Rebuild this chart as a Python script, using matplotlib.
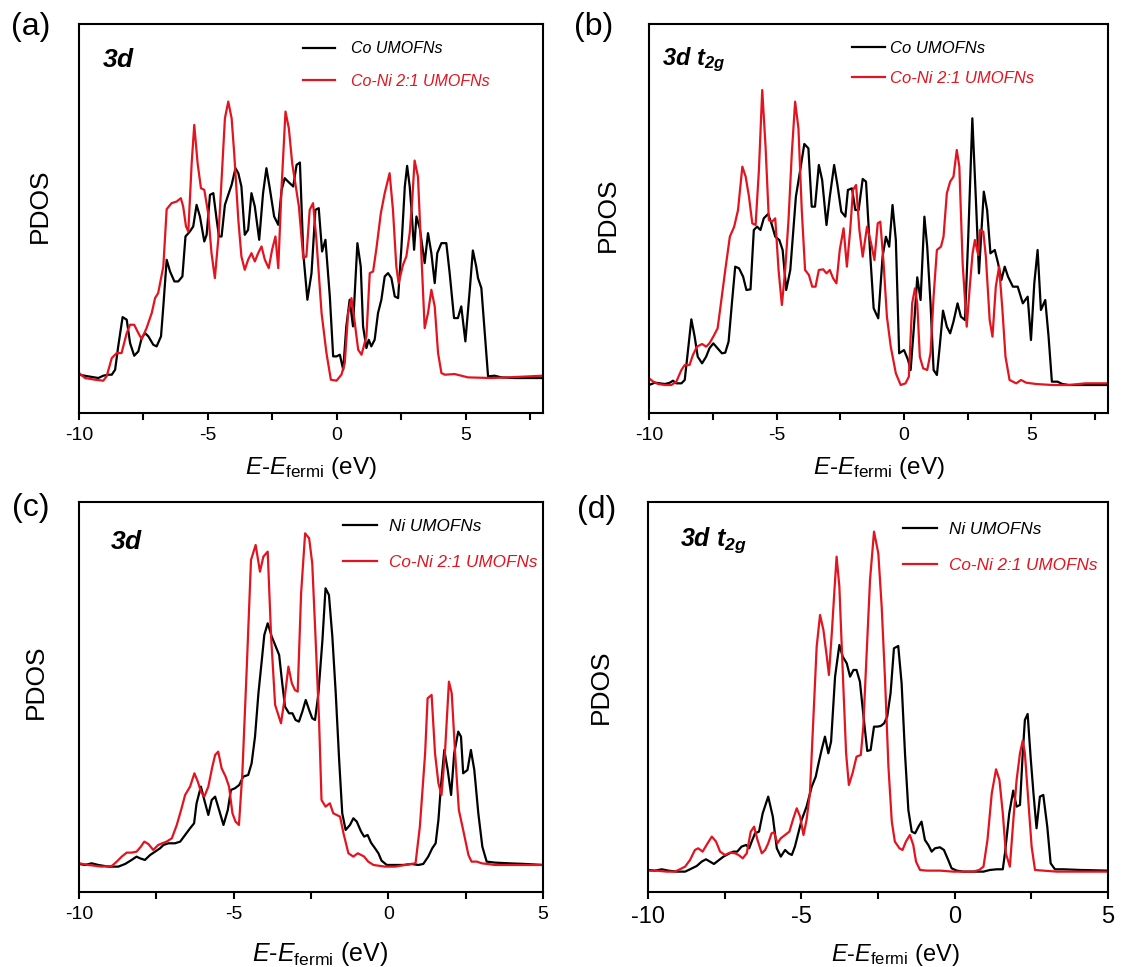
import matplotlib
matplotlib.use("Agg")
import matplotlib.pyplot as plt
from matplotlib.ticker import MultipleLocator

plt.rcParams['font.family'] = ['Liberation Sans', 'DejaVu Sans']
plt.rcParams['mathtext.fontset'] = 'custom'
plt.rcParams['mathtext.rm'] = 'Liberation Sans'
plt.rcParams['mathtext.it'] = 'Liberation Sans:italic'
plt.rcParams['mathtext.bf'] = 'Liberation Sans:italic:bold'
plt.rcParams['axes.unicode_minus'] = False

RED = '#e3141f'

# ---- (a) Co 3d ----
a_co_e = [-10.00, -9.64, -9.25, -9.06, -8.86, -8.73, -8.60, -8.48, -8.31, -8.15,
          -8.02, -7.86, -7.70, -7.57, -7.44, -7.31, -7.12, -6.99, -6.82, -6.73,
          -6.60, -6.47, -6.30, -6.15, -5.99, -5.87, -5.70, -5.57, -5.44, -5.31,
          -5.14, -5.05, -4.92, -4.79, -4.66, -4.57, -4.47, -4.34, -4.19, -4.08,
          -3.93, -3.82, -3.70, -3.57, -3.44, -3.31, -3.18, -3.01, -2.86, -2.73,
          -2.60, -2.43, -2.27, -2.14, -2.02, -1.89, -1.69, -1.56, -1.43, -1.30,
          -1.14, -0.98, -0.83, -0.70, -0.57, -0.44, -0.27, -0.14, -0.01, 0.12,
          0.25, 0.37, 0.50, 0.63, 0.80, 0.93, 1.02, 1.15, 1.24, 1.34,
          1.47, 1.60, 1.73, 1.86, 1.99, 2.12, 2.25, 2.38, 2.51, 2.64,
          2.73, 2.83, 2.89, 3.00, 3.09, 3.22, 3.41, 3.54, 3.67, 3.80,
          3.90, 4.06, 4.25, 4.38, 4.55, 4.70, 4.83, 4.99, 5.16, 5.28,
          5.41, 5.48, 5.61, 5.87, 6.12, 6.38, 6.90, 8.00]
a_co_pdos = [0.10, 0.05, 0.00, 0.07, 0.10, 0.10, 0.25, 0.95, 1.83, 1.75,
             1.05, 0.67, 0.80, 1.20, 1.35, 1.25, 1.00, 0.95, 1.25, 2.15,
             3.55, 3.20, 2.90, 2.90, 3.05, 4.25, 4.40, 4.55, 5.20, 4.85,
             4.10, 4.30, 5.50, 5.55, 4.75, 4.25, 4.25, 5.20, 5.55, 5.80,
             6.30, 6.15, 5.75, 4.30, 4.45, 5.55, 5.15, 4.15, 5.55, 6.30,
             5.70, 4.85, 4.60, 5.65, 6.00, 5.90, 5.75, 6.40, 6.47, 3.75,
             2.35, 3.15, 5.05, 5.10, 3.80, 4.15, 2.45, 0.65, 0.65, 0.70,
             0.25, 1.55, 2.35, 1.55, 4.05, 3.35, 1.55, 0.90, 1.15, 0.95,
             1.15, 1.95, 2.35, 3.05, 3.15, 3.00, 2.45, 2.40, 3.95, 5.75,
             6.37, 5.75, 5.15, 3.85, 4.85, 4.50, 3.45, 4.35, 3.75, 2.85,
             3.75, 4.05, 4.05, 3.15, 1.80, 1.80, 2.15, 1.10, 2.65, 3.83,
             3.35, 3.00, 2.70, 0.05, 0.07, 0.02, 0.00, 0.00]
a_coni_e = [-10.00, -9.77, -9.38, -9.06, -8.93, -8.73, -8.54, -8.35, -8.15, -8.02,
            -7.86, -7.70, -7.57, -7.38, -7.18, -7.05, -6.93, -6.73, -6.60, -6.41,
            -6.21, -6.05, -5.96, -5.85, -5.76, -5.63, -5.53, -5.40, -5.27, -5.14,
            -4.99, -4.86, -4.73, -4.60, -4.47, -4.34, -4.21, -4.08, -3.98, -3.82,
            -3.70, -3.57, -3.44, -3.31, -3.18, -3.05, -2.92, -2.79, -2.64, -2.51,
            -2.38, -2.27, -2.14, -1.99, -1.86, -1.73, -1.63, -1.47, -1.30, -1.18,
            -1.05, -0.92, -0.79, -0.59, -0.40, -0.23, -0.01, 0.18, 0.31, 0.44,
            0.57, 0.70, 0.83, 0.96, 1.15, 1.28, 1.41, 1.54, 1.71, 1.86,
            2.05, 2.18, 2.31, 2.40, 2.57, 2.70, 2.83, 2.92, 3.02, 3.15,
            3.28, 3.41, 3.54, 3.67, 3.80, 3.93, 4.06, 4.19, 4.57, 5.09,
            5.99, 6.64, 8.00]
a_coni_pdos = [0.15, 0.00, -0.05, -0.08, 0.05, 0.60, 0.75, 0.75, 1.35, 1.60,
               1.60, 1.35, 1.17, 1.50, 1.95, 2.40, 2.55, 3.35, 5.07, 5.25,
               5.30, 5.40, 5.15, 4.55, 4.40, 6.45, 7.60, 6.45, 5.70, 5.65,
               4.95, 3.75, 3.00, 4.15, 5.95, 7.80, 8.30, 7.80, 6.75, 4.75,
               3.65, 3.25, 3.55, 3.75, 3.50, 3.75, 3.95, 3.55, 3.30, 3.85,
               4.25, 3.30, 5.75, 8.00, 7.50, 6.45, 5.95, 5.15, 3.60, 3.65,
               5.05, 5.25, 4.15, 1.95, 0.75, -0.05, -0.08, 0.10, 0.45, 1.95,
               2.40, 1.65, 0.85, 0.70, 1.25, 3.15, 3.20, 3.90, 4.95, 5.55,
               6.15, 5.05, 3.35, 2.85, 3.40, 3.65, 4.35, 5.25, 6.53, 6.05,
               3.75, 1.50, 1.95, 2.65, 2.15, 0.75, 0.15, 0.10, 0.12, 0.02,
               0.00, 0.02, 0.07]

# ---- (b) Co 3d t2g ----
b_co_e = [-10.00, -9.77, -9.57, -9.38, -9.18, -9.06, -8.93, -8.73, -8.60, -8.47,
          -8.34, -8.21, -8.09, -7.92, -7.76, -7.63, -7.48, -7.31, -7.14, -7.01,
          -6.88, -6.75, -6.62, -6.47, -6.31, -6.18, -6.02, -5.89, -5.76, -5.63,
          -5.50, -5.33, -5.20, -5.05, -4.89, -4.76, -4.62, -4.46, -4.36, -4.24,
          -4.07, -3.91, -3.75, -3.62, -3.49, -3.34, -3.21, -3.04, -2.91, -2.74,
          -2.61, -2.46, -2.30, -2.20, -2.04, -1.91, -1.78, -1.62, -1.49, -1.32,
          -1.19, -1.01, -0.84, -0.71, -0.58, -0.45, -0.32, -0.19, 0.00, 0.16,
          0.26, 0.39, 0.52, 0.65, 0.80, 0.91, 1.04, 1.16, 1.29, 1.40,
          1.53, 1.68, 1.81, 1.94, 2.10, 2.23, 2.39, 2.52, 2.68, 2.82,
          2.94, 3.04, 3.13, 3.26, 3.39, 3.56, 3.69, 3.82, 3.95, 4.08,
          4.27, 4.46, 4.66, 4.85, 4.98, 5.11, 5.24, 5.37, 5.54, 5.67,
          5.80, 6.02, 6.21, 6.47, 8.00]
b_co_pdos = [-0.05, 0.02, 0.00, -0.02, 0.02, 0.08, 0.00, 0.00, 0.10, 1.00,
             1.92, 1.40, 0.80, 0.60, 0.80, 1.05, 1.20, 1.05, 0.90, 0.92,
             1.25, 2.40, 3.50, 3.45, 3.20, 2.80, 2.82, 4.60, 4.70, 4.60,
             4.95, 5.08, 4.80, 4.40, 4.30, 4.00, 2.80, 3.40, 4.40, 5.60,
             6.40, 7.18, 7.05, 5.30, 5.30, 6.55, 6.10, 4.75, 5.60, 6.55,
             5.95, 5.15, 5.00, 5.80, 5.85, 5.20, 5.20, 6.13, 6.05, 3.80,
             2.25, 1.95, 3.80, 4.40, 4.10, 5.35, 4.30, 0.90, 1.00, 0.70,
             0.40, 1.70, 3.18, 2.50, 5.00, 4.10, 2.40, 0.40, 0.25, 1.10,
             2.18, 1.70, 1.50, 1.85, 2.40, 2.00, 1.90, 4.40, 7.95, 5.50,
             3.30, 4.60, 5.75, 5.20, 3.90, 4.00, 3.60, 3.10, 3.50, 3.20,
             2.90, 2.90, 2.40, 2.60, 1.30, 3.00, 4.00, 2.20, 2.50, 1.40,
             0.05, 0.05, -0.02, -0.05, -0.05]
b_coni_e = [-10.00, -9.83, -9.64, -9.38, -9.12, -8.93, -8.73, -8.60, -8.41, -8.28,
            -8.12, -7.92, -7.76, -7.63, -7.48, -7.31, -7.18, -7.01, -6.83, -6.66,
            -6.51, -6.34, -6.21, -6.08, -5.95, -5.82, -5.69, -5.56, -5.43, -5.30,
            -5.17, -5.05, -4.92, -4.79, -4.66, -4.53, -4.40, -4.27, -4.14, -4.01,
            -3.88, -3.73, -3.60, -3.47, -3.34, -3.17, -3.04, -2.91, -2.78, -2.65,
            -2.52, -2.37, -2.24, -2.11, -2.00, -1.88, -1.75, -1.62, -1.45, -1.29,
            -1.16, -1.03, -0.93, -0.80, -0.67, -0.52, -0.32, -0.13, 0.06, 0.19,
            0.32, 0.43, 0.52, 0.62, 0.75, 0.91, 1.04, 1.16, 1.29, 1.45,
            1.55, 1.68, 1.81, 1.94, 2.07, 2.17, 2.30, 2.46, 2.59, 2.69,
            2.78, 2.91, 2.98, 3.11, 3.21, 3.36, 3.47, 3.60, 3.73, 3.86,
            3.98, 4.14, 4.40, 4.59, 4.79, 5.18, 5.82, 6.47, 7.12, 8.00]
b_coni_pdos = [0.15, 0.05, -0.02, -0.05, -0.05, 0.05, 0.40, 0.55, 0.55, 0.85,
               1.10, 1.18, 1.10, 1.20, 1.40, 1.65, 2.40, 3.40, 4.40, 4.70,
               5.20, 6.50, 6.20, 5.60, 4.80, 4.75, 6.40, 8.80, 7.10, 4.90,
               4.85, 4.95, 3.40, 2.35, 3.40, 4.90, 6.90, 8.45, 7.65, 5.20,
               3.40, 3.25, 2.90, 2.90, 3.40, 3.42, 3.30, 3.40, 3.15, 3.00,
               4.00, 4.65, 3.50, 4.60, 5.80, 5.95, 4.60, 3.80, 4.70, 4.20,
               3.70, 4.80, 4.85, 3.60, 2.00, 1.10, 0.30, -0.05, 0.00, 0.20,
               2.40, 2.85, 2.40, 0.80, 0.45, 0.40, 0.90, 2.60, 4.00, 4.10,
               4.40, 5.70, 6.05, 6.20, 7.00, 6.50, 3.60, 1.70, 3.00, 3.90,
               4.30, 3.85, 4.60, 4.55, 3.80, 1.90, 1.40, 2.90, 3.50, 2.20,
               0.80, 0.10, 0.00, 0.10, 0.02, -0.02, -0.05, -0.05, 0.00, 0.00]

# ---- (c) Ni 3d ----
c_ni_e = [-10.00, -9.81, -9.59, -9.38, -9.05, -8.73, -8.51, -8.30, -8.14, -8.03,
          -7.87, -7.70, -7.54, -7.38, -7.27, -7.11, -6.90, -6.73, -6.57, -6.41,
          -6.28, -6.20, -6.06, -5.95, -5.82, -5.71, -5.60, -5.44, -5.33, -5.19,
          -5.09, -4.96, -4.82, -4.69, -4.53, -4.42, -4.31, -4.20, -4.09, -4.01,
          -3.90, -3.77, -3.66, -3.53, -3.43, -3.34, -3.21, -3.10, -3.00, -2.89,
          -2.78, -2.67, -2.56, -2.46, -2.37, -2.26, -2.13, -2.03, -1.92, -1.81,
          -1.70, -1.59, -1.49, -1.38, -1.24, -1.13, -1.02, -0.88, -0.78, -0.67,
          -0.56, -0.43, -0.32, -0.22, -0.05, 0.22, 0.49, 0.75, 0.97, 1.13,
          1.29, 1.42, 1.53, 1.62, 1.70, 1.81, 1.92, 2.03, 2.13, 2.26,
          2.35, 2.42, 2.56, 2.67, 2.78, 2.91, 3.04, 3.18, 3.45, 3.88,
          4.42, 5.00]
c_ni_pdos = [0.03, 0.00, 0.05, 0.00, -0.05, -0.05, 0.03, 0.15, 0.25, 0.20,
             0.15, 0.30, 0.40, 0.50, 0.60, 0.65, 0.65, 0.70, 0.90, 1.10,
             1.25, 1.85, 2.35, 1.95, 1.50, 1.95, 2.05, 1.55, 1.20, 1.65,
             2.25, 2.30, 2.40, 2.65, 2.70, 3.05, 3.85, 5.15, 6.15, 6.90,
             7.25, 6.85, 6.60, 6.30, 5.45, 4.75, 4.55, 4.55, 4.35, 4.30,
             4.60, 4.95, 4.65, 4.40, 4.35, 5.15, 6.75, 8.30, 8.10, 6.85,
             5.15, 3.15, 1.55, 1.05, 1.20, 1.40, 1.30, 1.00, 0.85, 0.90,
             0.67, 0.50, 0.35, 0.13, 0.00, 0.00, 0.00, 0.03, 0.00, 0.03,
             0.25, 0.50, 0.65, 1.35, 2.35, 3.45, 2.85, 2.10, 3.35, 4.00,
             3.85, 2.75, 2.85, 3.45, 2.85, 1.55, 0.55, 0.10, 0.07, 0.05,
             0.03, 0.00]
c_coni_e = [-10.00, -9.70, -9.27, -8.94, -8.78, -8.62, -8.46, -8.30, -8.14, -8.00,
            -7.89, -7.76, -7.60, -7.44, -7.31, -7.17, -7.00, -6.84, -6.70, -6.57,
            -6.41, -6.27, -6.16, -6.06, -5.95, -5.82, -5.69, -5.60, -5.50, -5.39,
            -5.26, -5.15, -5.04, -4.94, -4.83, -4.72, -4.58, -4.44, -4.29, -4.15,
            -4.04, -3.90, -3.79, -3.66, -3.47, -3.36, -3.23, -3.12, -3.02, -2.93,
            -2.82, -2.69, -2.56, -2.46, -2.35, -2.24, -2.16, -2.03, -1.89, -1.78,
            -1.67, -1.56, -1.45, -1.29, -1.13, -0.99, -0.88, -0.78, -0.65, -0.48,
            -0.11, 0.22, 0.54, 0.75, 0.88, 1.02, 1.19, 1.27, 1.40, 1.51,
            1.62, 1.72, 1.83, 1.96, 2.05, 2.16, 2.28, 2.42, 2.59, 2.69,
            2.86, 3.02, 3.45, 3.88, 5.00]
c_coni_pdos = [0.05, 0.00, -0.05, -0.03, 0.10, 0.25, 0.37, 0.37, 0.40, 0.55,
               0.70, 0.63, 0.45, 0.60, 0.65, 0.70, 0.80, 1.20, 1.65, 2.10,
               2.35, 2.75, 2.50, 2.20, 2.05, 2.35, 2.95, 3.30, 3.40, 2.90,
               2.65, 2.35, 1.55, 1.30, 1.20, 2.75, 5.85, 9.15, 9.60, 8.80,
               9.25, 9.40, 6.85, 4.80, 4.25, 4.95, 5.95, 5.45, 5.25, 5.20,
               8.15, 9.95, 9.80, 9.05, 6.75, 4.35, 1.95, 1.75, 1.85, 1.55,
               1.50, 1.45, 0.95, 0.35, 0.25, 0.35, 0.30, 0.25, 0.10, 0.00,
               -0.05, -0.05, 0.00, 0.03, 0.05, 1.15, 3.35, 5.00, 5.10, 3.35,
               2.45, 2.10, 3.35, 5.50, 5.15, 3.35, 1.65, 1.05, 0.30, 0.10,
               0.10, 0.05, 0.00, 0.00, 0.00]

# ---- (d) Ni 3d t2g ----
d_ni_e = [-10.00, -9.77, -9.55, -9.34, -9.07, -8.79, -8.63, -8.41, -8.25, -8.11,
          -7.98, -7.85, -7.71, -7.54, -7.38, -7.22, -7.09, -6.95, -6.80, -6.70,
          -6.62, -6.51, -6.38, -6.26, -6.08, -5.93, -5.80, -5.67, -5.53, -5.42,
          -5.31, -5.21, -5.10, -4.99, -4.83, -4.66, -4.53, -4.45, -4.34, -4.23,
          -4.12, -4.03, -3.90, -3.76, -3.65, -3.52, -3.41, -3.30, -3.20, -3.09,
          -2.96, -2.85, -2.74, -2.63, -2.52, -2.41, -2.30, -2.20, -2.09, -1.98,
          -1.84, -1.73, -1.62, -1.51, -1.40, -1.29, -1.18, -1.08, -0.97, -0.86,
          -0.75, -0.64, -0.48, -0.35, -0.21, -0.10, 0.07, 0.28, 0.61, 0.94,
          1.15, 1.37, 1.57, 1.64, 1.78, 1.91, 2.02, 2.13, 2.22, 2.29,
          2.38, 2.48, 2.57, 2.67, 2.78, 2.89, 3.02, 3.13, 3.27, 3.54,
          4.09, 5.00]
d_ni_pdos = [0.02, 0.00, 0.04, 0.00, -0.03, -0.03, 0.04, 0.14, 0.27, 0.34,
             0.27, 0.20, 0.30, 0.42, 0.50, 0.57, 0.57, 0.72, 0.77, 0.67,
             0.87, 1.12, 1.17, 1.72, 2.22, 1.62, 0.67, 0.42, 0.62, 0.52,
             0.47, 0.72, 1.12, 1.52, 1.92, 2.52, 2.82, 3.17, 3.62, 4.02,
             3.52, 3.87, 5.82, 6.77, 6.42, 6.22, 5.82, 6.02, 6.02, 5.67,
             4.52, 3.59, 3.62, 4.32, 4.32, 4.34, 4.42, 4.62, 5.32, 6.67,
             6.74, 5.62, 3.52, 1.82, 1.17, 1.12, 1.32, 1.47, 0.92, 0.77,
             0.57, 0.67, 0.70, 0.62, 0.32, 0.07, 0.00, -0.03, -0.03, -0.03,
             0.02, 0.04, 0.04, 0.52, 1.72, 2.40, 1.92, 1.97, 3.52, 4.52,
             4.70, 3.37, 2.32, 1.27, 2.22, 2.27, 1.32, 0.22, 0.04, 0.04,
             0.02, 0.00]
d_coni_e = [-10.00, -9.72, -9.39, -9.12, -8.96, -8.79, -8.63, -8.47, -8.36, -8.22,
            -8.07, -7.92, -7.78, -7.65, -7.49, -7.33, -7.16, -7.05, -6.91, -6.78,
            -6.65, -6.54, -6.43, -6.29, -6.18, -6.08, -5.97, -5.89, -5.78, -5.67,
            -5.53, -5.39, -5.26, -5.15, -5.04, -4.93, -4.83, -4.72, -4.61, -4.50,
            -4.39, -4.28, -4.17, -4.10, -4.00, -3.92, -3.85, -3.76, -3.63, -3.54,
            -3.45, -3.33, -3.20, -3.06, -2.98, -2.87, -2.76, -2.63, -2.49, -2.38,
            -2.27, -2.16, -2.05, -1.95, -1.80, -1.70, -1.59, -1.46, -1.35, -1.26,
            -1.13, -0.91, -0.48, -0.04, 0.28, 0.61, 0.80, 0.94, 1.07, 1.21,
            1.35, 1.46, 1.57, 1.67, 1.80, 1.91, 2.02, 2.13, 2.22, 2.29,
            2.40, 2.51, 2.62, 2.89, 3.33, 4.09, 5.00]
d_coni_pdos = [0.00, 0.00, -0.03, -0.03, 0.04, 0.12, 0.32, 0.62, 0.67, 0.57,
               0.80, 1.02, 0.87, 0.57, 0.47, 0.54, 0.52, 0.47, 0.37, 0.52,
               1.17, 1.32, 0.92, 0.52, 0.62, 0.82, 1.12, 1.15, 0.82, 0.97,
               1.07, 1.17, 1.57, 1.87, 1.62, 1.07, 1.52, 2.32, 4.52, 6.72,
               7.67, 7.22, 6.42, 5.87, 7.22, 8.42, 9.42, 8.52, 5.52, 3.52,
               2.57, 2.92, 3.42, 3.47, 4.32, 6.52, 8.72, 10.17, 9.52, 7.92,
               5.72, 3.12, 1.47, 0.87, 0.67, 0.62, 0.87, 1.07, 0.77, 0.27,
               0.02, 0.00, 0.00, -0.03, -0.03, -0.03, 0.02, 0.12, 0.92, 2.32,
               3.04, 2.72, 1.72, 0.52, 0.12, 1.47, 2.72, 3.52, 3.90, 3.52,
               2.12, 0.72, 0.02, 0.00, -0.03, -0.03, -0.03]

panels = [
    dict(tag='(a)', rect=[0.0702, 0.5729, 0.412, 0.4023], xlim=(-10, 8), ylim=(-1.05, 10.63),
         black=(a_co_e, a_co_pdos, 'Co UMOFNs'), red=(a_coni_e, a_coni_pdos, 'Co-Ni 2:1 UMOFNs'),
         title=r'$\mathbf{3d}$', title_size=19, title_xy=(0.05, 0.907), tag_xy=(0.027, 0.972),
         leg_xy=(0.483, 0.956), leg_pad=1.0, leg_sp=1.09, leg_size=11.5,
         tick_size=14, xlab_size=17.5,
         ylab_x=-0.058, ylab_y=0.532, xlab_x=0.5, xlab_y=-0.108),
    dict(tag='(b)', rect=[0.5764, 0.5729, 0.4076, 0.4023], xlim=(-10, 8), ylim=(-0.89, 10.78),
         black=(b_co_e, b_co_pdos, 'Co UMOFNs'), red=(b_coni_e, b_coni_pdos, 'Co-Ni 2:1 UMOFNs'),
         title=r'$\mathbf{3d\ t_{2g}}$', title_size=17, title_xy=(0.028, 0.907), tag_xy=(0.527, 0.972),
         leg_xy=(0.442, 0.956), leg_pad=0.3, leg_sp=0.9, leg_size=12,
         tick_size=14, xlab_size=17.5,
         ylab_x=-0.063, ylab_y=0.51, xlab_x=0.5, xlab_y=-0.108),
    dict(tag='(c)', rect=[0.0702, 0.0776, 0.412, 0.4033], xlim=(-10, 5), ylim=(-0.81, 10.89),
         black=(c_ni_e, c_ni_pdos, 'Ni UMOFNs'), red=(c_coni_e, c_coni_pdos, 'Co-Ni 2:1 UMOFNs'),
         title=r'$\mathbf{3d}$', title_size=19, title_xy=(0.067, 0.897), tag_xy=(0.027, 0.475),
         leg_xy=(0.569, 0.956), leg_pad=0.7, leg_sp=1.2, leg_size=12.3,
         tick_size=14, xlab_size=18,
         ylab_x=-0.067, ylab_y=0.54, xlab_x=0.52, xlab_y=-0.122),
    dict(tag='(d)', rect=[0.5755, 0.0776, 0.4085, 0.4033], xlim=(-10, 5), ylim=(-0.64, 11.06),
         black=(d_ni_e, d_ni_pdos, 'Ni UMOFNs'), red=(d_coni_e, d_coni_pdos, 'Co-Ni 2:1 UMOFNs'),
         title=r'$\mathbf{3d\ t_{2g}}$', title_size=18, title_xy=(0.07, 0.903), tag_xy=(0.53, 0.473),
         leg_xy=(0.554, 0.948), leg_pad=0.7, leg_sp=1.2, leg_size=12.3,
         tick_size=17, xlab_size=17,
         ylab_x=-0.076, ylab_y=0.526, xlab_x=0.537, xlab_y=-0.128),
]

fig = plt.figure(figsize=(11.26, 9.67), dpi=100)

for p in panels:
    ax = fig.add_axes(p['rect'])
    e, d, lab = p['black']
    ax.plot(e, d, color='black', lw=1.6, label=lab)
    e, d, lab = p['red']
    ax.plot(e, d, color=RED, lw=1.6, label=lab)
    ax.set_xlim(*p['xlim'])
    ax.set_ylim(*p['ylim'])
    ax.xaxis.set_major_locator(MultipleLocator(5))
    ax.xaxis.set_minor_locator(MultipleLocator(2.5))
    ax.tick_params(axis='x', which='both', direction='out', width=1.5, length=5,
                   labelsize=p['tick_size'], pad=5)
    ax.set_yticks([])
    for s in ax.spines.values():
        s.set_linewidth(1.5)

    ax.set_ylabel('PDOS', fontsize=19)
    ax.yaxis.set_label_coords(p['ylab_x'], p['ylab_y'])
    ax.set_xlabel(r'$\mathit{E}$-$\mathit{E}_{\mathrm{fermi}}$ (eV)', fontsize=p['xlab_size'])
    ax.xaxis.set_label_coords(p['xlab_x'], p['xlab_y'])

    ax.text(p['title_xy'][0], p['title_xy'][1], p['title'], transform=ax.transAxes,
            fontsize=p['title_size'], ha='left', va='center')

    ax.legend(loc='upper left', bbox_to_anchor=p['leg_xy'], frameon=False,
              borderaxespad=0, borderpad=0, handlelength=2.0,
              handletextpad=p['leg_pad'], labelspacing=p['leg_sp'],
              labelcolor='linecolor', prop={'style': 'italic', 'size': p['leg_size']})

    fig.text(p['tag_xy'][0], p['tag_xy'][1], p['tag'], fontsize=23, ha='center', va='center')

fig.savefig('out.png', dpi=100)
